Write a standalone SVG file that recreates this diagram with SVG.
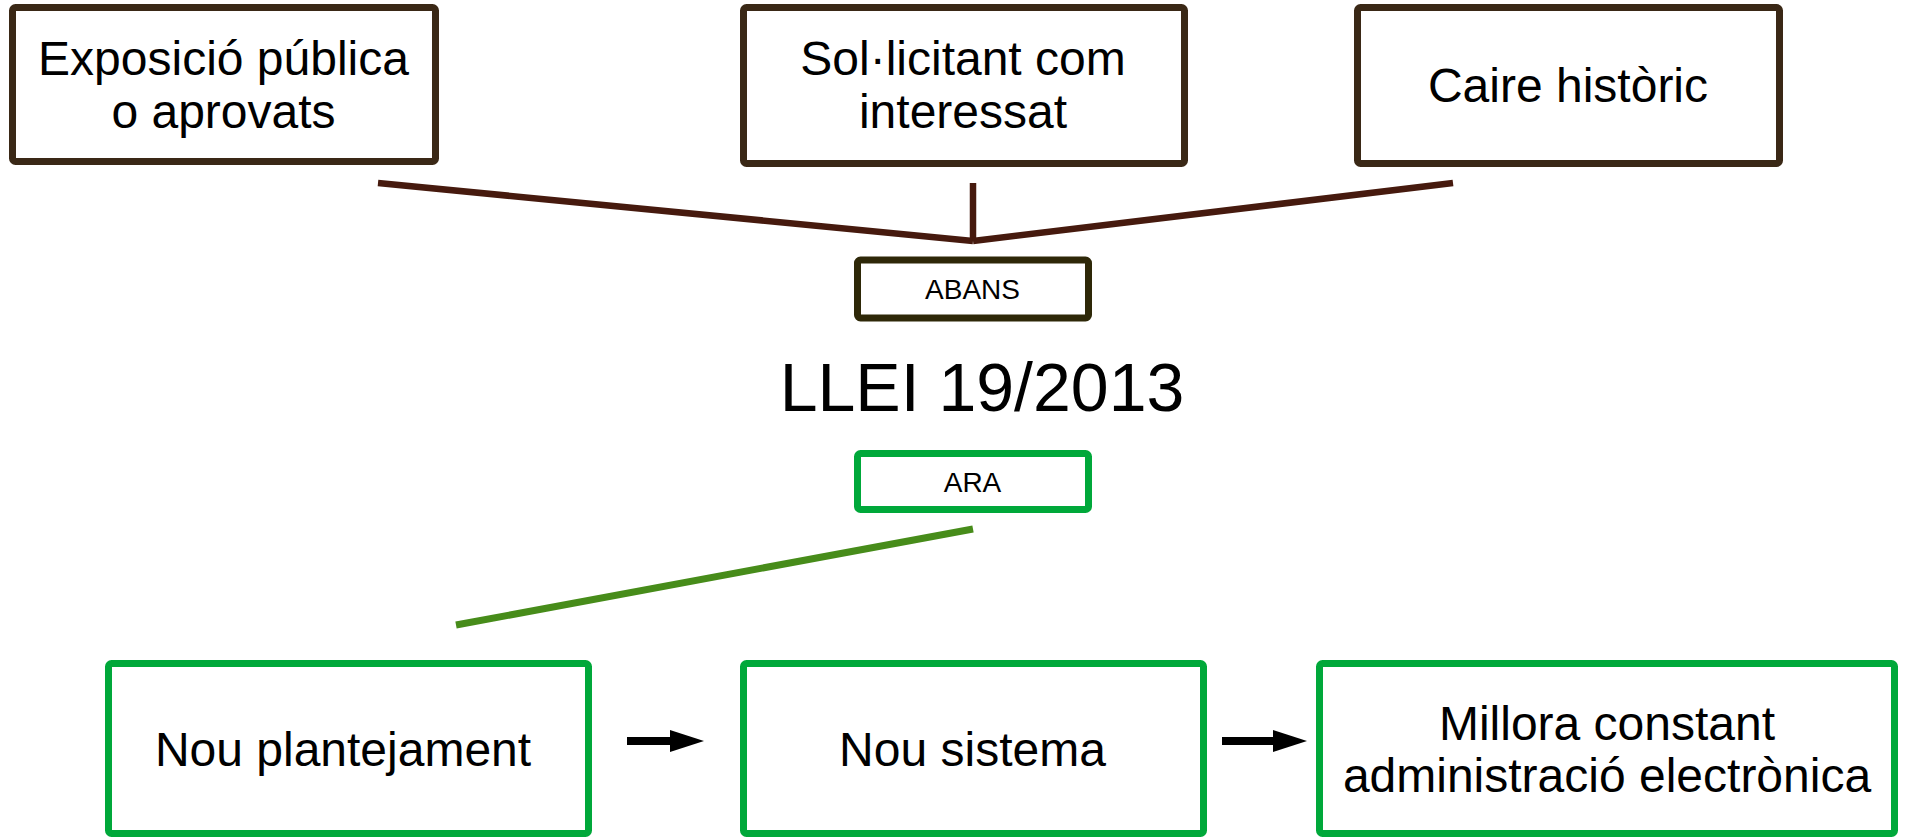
<svg xmlns="http://www.w3.org/2000/svg" width="1911" height="837" viewBox="0 0 1911 837">
  <style>
    .box-old { fill: #ffffff; stroke: #3a2816; stroke-width: 7; }
    .box-abans { fill: #ffffff; stroke: #2e2808; stroke-width: 7; }
    .box-new { fill: #ffffff; stroke: #00a83a; stroke-width: 7; }
    .lbl { font-family: "Liberation Sans", Arial, sans-serif; font-size: 48px; fill: #000000; text-anchor: middle; }
    .small { font-family: "Liberation Sans", Arial, sans-serif; font-size: 28px; fill: #000000; text-anchor: middle; }
    .title { font-family: "Liberation Sans", Arial, sans-serif; font-size: 68px; fill: #000000; text-anchor: middle; }
    .brown { stroke: #461a0e; stroke-width: 6.5; fill: none; }
    .green { stroke: #478c1a; stroke-width: 7; fill: none; }
    .arrow { stroke: #000000; stroke-width: 8; fill: none; }
  </style>
  <defs>
    <marker id="head" viewBox="0 0 34 22" refX="2" refY="11" markerWidth="34" markerHeight="22" markerUnits="userSpaceOnUse" orient="auto">
      <path d="M0,0 L34,11 L0,22 z" fill="#000000"/>
    </marker>
  </defs>
  <rect width="1911" height="837" fill="#ffffff"/>

  <g id="connectors">
    <line class="brown" x1="378" y1="183" x2="973" y2="241"/>
    <line class="brown" x1="973" y1="183" x2="973" y2="241"/>
    <line class="brown" x1="1453" y1="183" x2="973" y2="241"/>
    <line class="green" x1="456" y1="625" x2="973" y2="529"/>
    <line class="arrow" x1="627" y1="741" x2="672" y2="741" marker-end="url(#head)"/>
    <line class="arrow" x1="1222" y1="741" x2="1275" y2="741" marker-end="url(#head)"/>
  </g>

  <g id="node-exposicio">
    <rect class="box-old" x="12.5" y="7.5" width="423" height="154" rx="3"/>
    <text class="lbl" x="223.5" y="75">Exposició pública</text>
    <text class="lbl" x="223.5" y="128">o aprovats</text>
  </g>

  <g id="node-sollicitant">
    <rect class="box-old" x="743.5" y="7.5" width="441" height="156" rx="3"/>
    <text class="lbl" x="963" y="75">Sol·licitant com</text>
    <text class="lbl" x="963" y="128">interessat</text>
  </g>

  <g id="node-caire">
    <rect class="box-old" x="1357.5" y="7.5" width="422" height="156" rx="3"/>
    <text class="lbl" x="1568" y="102">Caire històric</text>
  </g>

  <g id="node-abans">
    <rect class="box-abans" x="857.5" y="260" width="231" height="58" rx="3"/>
    <text class="small" x="972.5" y="299">ABANS</text>
  </g>

  <g id="node-llei">
    <text class="title" x="982" y="411">LLEI 19/2013</text>
  </g>

  <g id="node-ara">
    <rect class="box-new" x="857.5" y="453.5" width="231" height="56" rx="3"/>
    <text class="small" x="972.5" y="491.5">ARA</text>
  </g>

  <g id="node-plantejament">
    <rect class="box-new" x="108.5" y="663.5" width="480" height="170" rx="3"/>
    <text class="lbl" x="343" y="766">Nou plantejament</text>
  </g>

  <g id="node-sistema">
    <rect class="box-new" x="743.5" y="663.5" width="460" height="170" rx="3"/>
    <text class="lbl" x="972.5" y="766">Nou sistema</text>
  </g>

  <g id="node-millora">
    <rect class="box-new" x="1319.5" y="663.5" width="575" height="170" rx="3"/>
    <text class="lbl" x="1607" y="740">Millora constant</text>
    <text class="lbl" x="1607" y="792">administració electrònica</text>
  </g>
</svg>
